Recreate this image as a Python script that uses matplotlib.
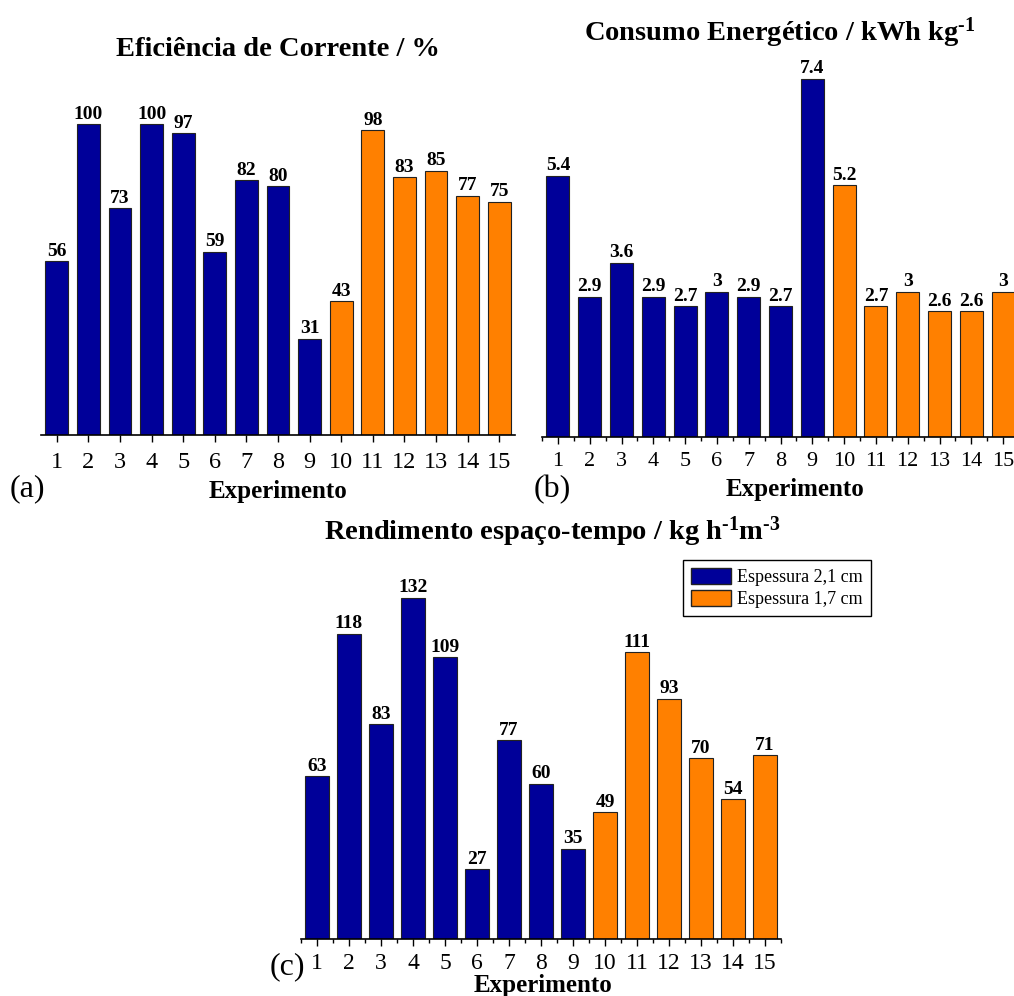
import numpy as np
import matplotlib
matplotlib.use("Agg")
import matplotlib.pyplot as plt
from matplotlib.patches import Patch
from matplotlib.ticker import MultipleLocator

plt.rcParams['font.family'] = ['Liberation Serif', 'DejaVu Serif']
plt.rcParams['mathtext.fontset'] = 'custom'
plt.rcParams['mathtext.rm'] = 'Liberation Serif'
plt.rcParams['mathtext.bf'] = 'Liberation Serif:bold'
plt.rcParams['mathtext.default'] = 'bf'

# Data
experimentos = np.arange(1, 16)
grupo = np.array(['2,1'] * 9 + ['1,7'] * 6)
eficiencia = [56, 100, 73, 100, 97, 59, 82, 80, 31, 43, 98, 83, 85, 77, 75]
consumo = [5.4, 2.9, 3.6, 2.9, 2.7, 3, 2.9, 2.7, 7.4, 5.2, 2.7, 3, 2.6, 2.6, 3]
rendimento = [63, 118, 83, 132, 109, 27, 77, 60, 35, 49, 111, 93, 70, 54, 71]

AZUL = '#000099'
LARANJA = '#FF8000'
cores = [AZUL if g == '2,1' else LARANJA for g in grupo]

W, H = 1014, 996
fig = plt.figure(figsize=(W / 100, H / 100), dpi=100)


def px_box(x0, x1, y_base, y_top):
    return [x0 / W, 1 - y_base / H, (x1 - x0) / W, (y_base - y_top) / H]


def fig_text(x, y, s, **kw):
    fig.text(x / W, 1 - y / H, s, ha='center', va='center', **kw)


def painel(box, valores, ymax, fmt, tick_fs, minor, pad):
    ax = fig.add_axes(box)
    bars = ax.bar(experimentos, valores, width=0.72, color=cores,
                  edgecolor='#222222', linewidth=0.8)
    ax.bar_label(bars, labels=[fmt(v) for v in valores], padding=1,
                 fontsize=14, fontweight='bold')
    ax.set_xlim(0.5, 15.5)
    ax.set_ylim(0, ymax)
    ax.set_xticks(experimentos)
    if minor:
        ax.xaxis.set_minor_locator(MultipleLocator(0.5))
    ax.tick_params(axis='x', which='major', direction='out', length=5,
                   width=1, labelsize=tick_fs, pad=pad)
    ax.tick_params(axis='x', which='minor', direction='out', length=3, width=1)
    for s in ['left', 'right', 'top']:
        ax.spines[s].set_visible(False)
    ax.spines['bottom'].set_linewidth(1.2)
    ax.set_yticks([])
    ax.patch.set_alpha(0)
    return ax


fmt_int = lambda v: '{:d}'.format(int(v))
fmt_g = lambda v: '{:g}'.format(v)
SUP = '\u2010'  # hifen curto no expoente

# (a) Eficiência de corrente
painel(px_box(41, 515, 435, 93), eficiencia, 110, fmt_int, 17.5, False, 7)
fig_text(278, 50, 'Eficiência de Corrente / %', fontsize=20.5, fontweight='bold')
fig_text(278, 491, 'Experimento', fontsize=18, fontweight='bold')
fig_text(27, 489, '(a)', fontsize=23)

# (b) Consumo energético
painel(px_box(542, 1019, 437, 60), consumo, 7.79, fmt_g, 16, True, 6)
fig_text(780, 33, 'Consumo Energético / kWh kg$^{' + SUP + '1}$',
         fontsize=20.5, fontweight='bold')
fig_text(795, 489, 'Experimento', fontsize=18, fontweight='bold')
fig_text(552, 490, '(b)', fontsize=23)

# (c) Rendimento espaço-tempo
painel(px_box(301, 781, 939, 577), rendimento, 140, fmt_int, 17, True, 5)
fig_text(552, 532, 'Rendimento espaço-tempo / kg h$^{' + SUP + '1}$m$^{' + SUP + '3}$',
         fontsize=20.5, fontweight='bold')
fig_text(543, 985, 'Experimento', fontsize=18, fontweight='bold')
fig_text(287, 967, '(c)', fontsize=23)

handles = [Patch(facecolor=AZUL, edgecolor='#222222', label='Espessura 2,1 cm'),
           Patch(facecolor=LARANJA, edgecolor='#222222', label='Espessura 1,7 cm')]
fig.legend(handles=handles, loc='upper left',
           bbox_to_anchor=(683 / W, 1 - 560 / H), fontsize=13,
           frameon=True, fancybox=False, edgecolor='black', framealpha=1,
           handlelength=2.2, handleheight=1.0, borderpad=0.45,
           labelspacing=0.2, handletextpad=0.35, borderaxespad=0)

fig.savefig('out.png', dpi=100)
